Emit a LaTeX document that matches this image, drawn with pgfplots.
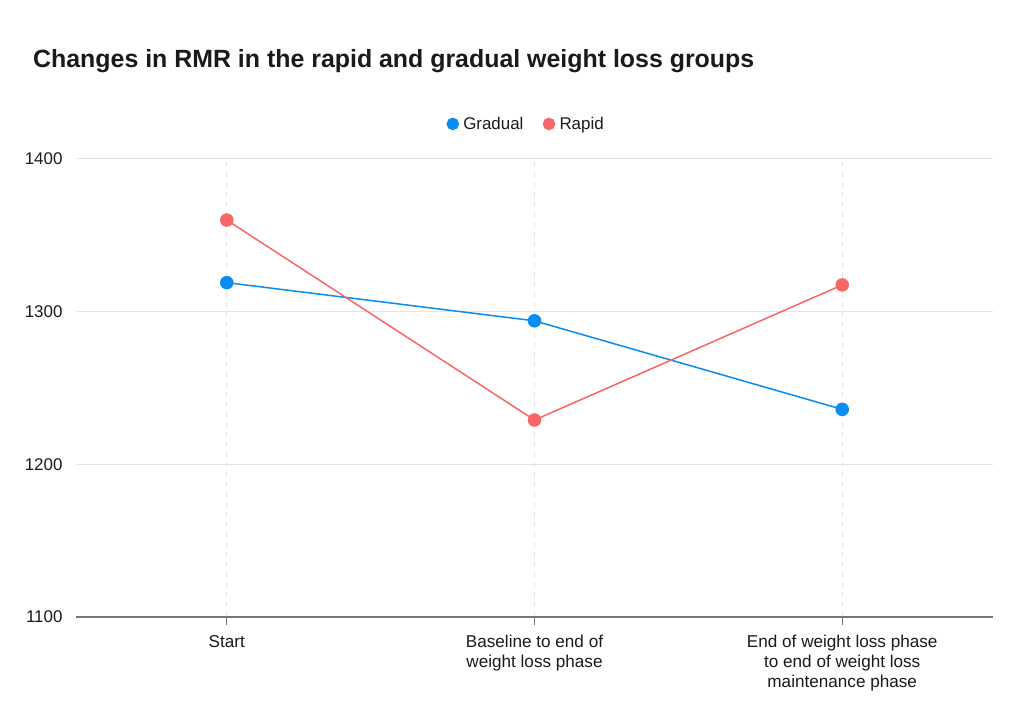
\documentclass[border=0pt]{standalone}
\usepackage{pgfplots}
\pgfplotsset{compat=1.18}
\usepackage{fontspec}
\setmainfont{Liberation Sans}
\definecolor{gblue}{HTML}{0A8CF0}
\definecolor{rred}{HTML}{F96666}
\definecolor{gridc}{HTML}{E4E4E4}
\definecolor{axisc}{HTML}{777777}
\definecolor{txt}{HTML}{1A1A1A}
\begin{document}
\begin{tikzpicture}[x=1bp,y=1bp]
\path[fill=white] (0,0) rectangle (1024,702);
\node[anchor=base west, inner sep=0, text=txt, font=\fontsize{25}{29}\selectfont\bfseries] at (33,634) {Changes in RMR in the rapid and gradual weight loss groups};
\begin{axis}[
  at={(76bp,85bp)}, anchor=south west,
  scale only axis, width=917bp, height=458bp,
  xmin=-0.49, xmax=2.49, ymin=1100, ymax=1400,
  ytick={1100,1200,1300,1400},
  xtick={0,1,2},
  xticklabels={Start, {Baseline to end of\\weight loss phase}, {End of weight loss phase\\to end of weight loss\\maintenance phase}},
  xticklabel style={align=center, font=\fontsize{17.2}{19.8}\selectfont, text=txt, anchor=north, yshift=-7bp},
  yticklabel style={font=\fontsize{17}{20}\selectfont, text=txt, xshift=-10bp},
  /pgf/number format/assume math mode=true,
  /pgf/number format/set thousands separator={},
  axis x line*=bottom, axis y line*=left,
  x axis line style={draw=axisc, line width=1.5bp, -},
  y axis line style={draw=none},
  ytick style={draw=none},
  xtick style={draw=axisc, line width=1bp},
  xtick align=outside, major tick length=8bp,
  xmajorgrids, ymajorgrids,
  x grid style={draw=gridc, dashed, dash pattern=on 5bp off 5bp, line width=1bp},
  y grid style={draw=gridc, line width=1bp},
  legend style={at={(0.5,1)}, anchor=south, yshift=24bp, xshift=-8bp, draw=none, fill=none, legend columns=2,
    font=\fontsize{17}{20}\selectfont, text=txt,
    /tikz/every even column/.append style={column sep=18bp},
    /tikz/every odd column/.append style={column sep=3bp}},
  legend cell align=left,
  legend image code/.code={\draw[#1, only marks, mark size=5.5bp] plot coordinates {(0.1cm,0cm)};},
]
\addplot[color=gblue, line width=1.5bp, mark=*, mark size=6bp] coordinates {(0,1319) (1,1294) (2,1236)};
\addlegendentry{Gradual}
\addplot[color=rred, line width=1.5bp, mark=*, mark size=6bp] coordinates {(0,1360) (1,1229) (2,1317.5)};
\addlegendentry{Rapid}
\end{axis}
\end{tikzpicture}
\end{document}
